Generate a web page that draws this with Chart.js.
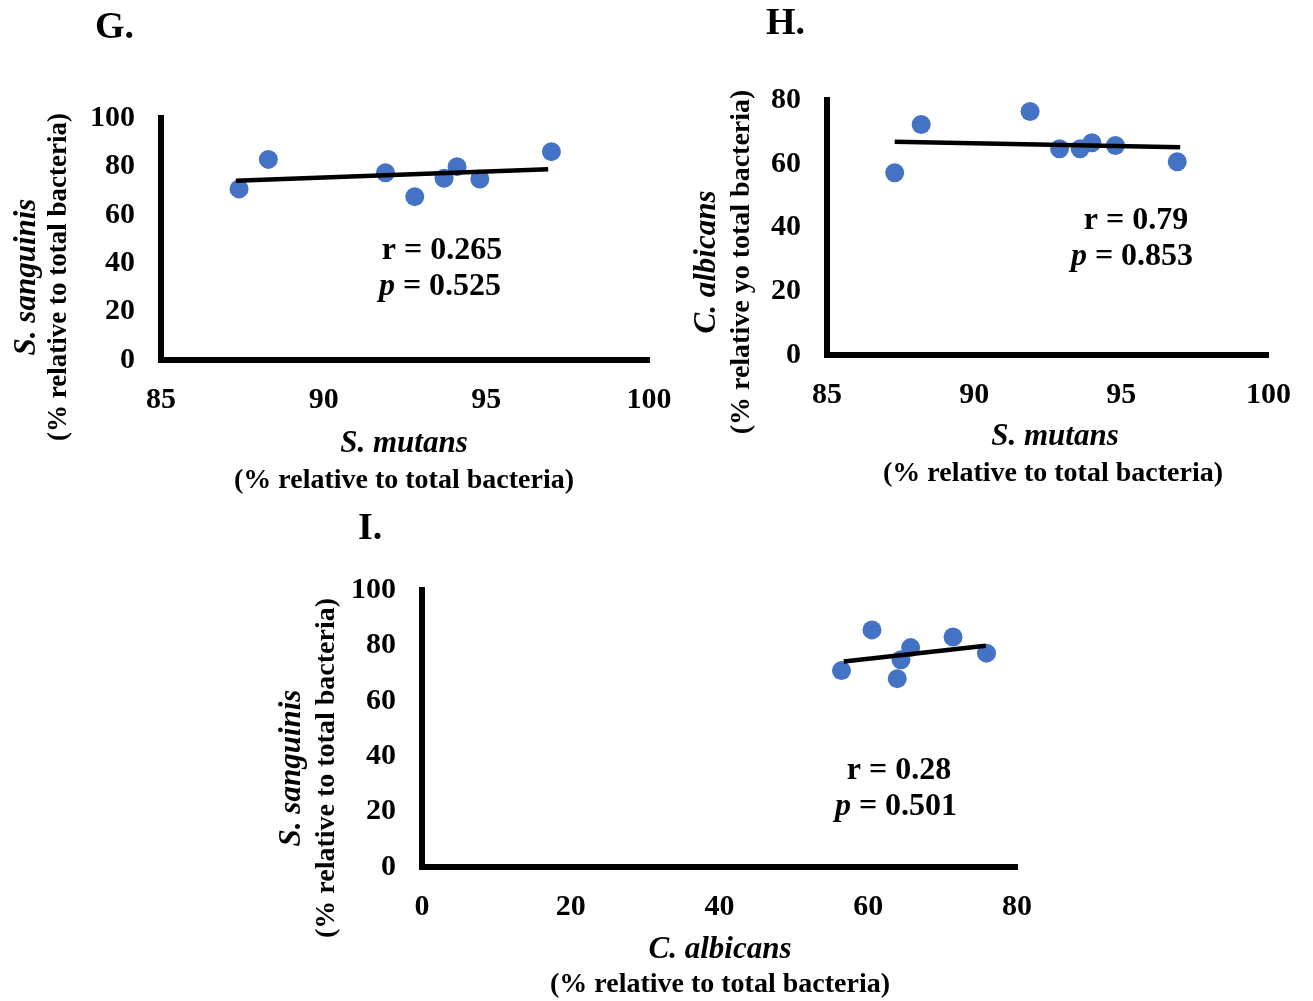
<!DOCTYPE html>
<html>
<head>
<meta charset="utf-8">
<script src="https://cdn.jsdelivr.net/npm/chart.js@4/dist/chart.umd.min.js"></script>
<style>
body { margin: 0; background: #fff; }
#wrap { position: relative; width: 1313px; height: 1001px; }
#wrap canvas { position: absolute; left: 0; top: 0; }
</style>
</head>
<body>
<div id="wrap">
  <canvas id="chart-g" width="1313" height="1001"></canvas>
  <canvas id="chart-h" width="1313" height="1001"></canvas>
  <canvas id="chart-i" width="1313" height="1001"></canvas>
</div>
<script>
// Panel G: S. mutans vs S. sanguinis
var gMutans    = [87.4, 88.3, 91.9, 92.8, 93.7, 94.1, 94.8, 97.0];
var gSanguinis = [70.7, 82.9, 77.4, 67.5, 75.1, 79.9, 74.8, 86.1];
var gTrendX = [87.3, 96.9];
var gTrendY = [74.1, 78.8];

// Panel H: S. mutans vs C. albicans
var hMutans   = [87.3, 88.2, 91.9, 92.9, 93.6, 94.0, 94.8, 96.9];
var hAlbicans = [57.2, 72.3, 76.4, 64.7, 64.7, 66.6, 65.7, 60.6];
var hTrendX = [87.3, 97.0];
var hTrendY = [66.9, 65.2];

// Panel I: C. albicans vs S. sanguinis
var iAlbicans  = [56.4, 60.5, 63.9, 64.4, 65.7, 71.4, 75.9];
var iSanguinis = [70.9, 85.6, 68.0, 74.8, 79.2, 83.0, 77.2];
var iTrendX = [56.7, 75.8];
var iTrendY = [74.2, 79.9];

// Tick labels
var ticksMutans = [85, 90, 95, 100];
var ticksPct100 = [0, 20, 40, 60, 80, 100];
var ticksPct80  = [0, 20, 40, 60, 80];

var FONT = "'Liberation Serif', 'Times New Roman', serif";
var DOT = '#4472C4';

function toPoints(xs, ys) {
    return xs.map(function(x, i) { return { x: x, y: ys[i] }; });
}

// draws the text pieces (titles, r / p values, panel letter)
var panelText = {
    id: 'panelText',
    afterDraw: function(chart, args, opts) {
        var ctx = chart.ctx;
        (opts.items || []).forEach(function(it) {
            ctx.save();
            ctx.translate(it.x, it.y);
            if (it.rotate) ctx.rotate(-Math.PI / 2);
            ctx.textBaseline = 'middle';
            ctx.textAlign = 'left';
            ctx.fillStyle = '#000';
            var total = 0;
            it.parts.forEach(function(p) { ctx.font = p.font; total += ctx.measureText(p.text).width; });
            var x = it.left ? 0 : -total / 2;
            it.parts.forEach(function(p) {
                ctx.font = p.font;
                ctx.fillText(p.text, x, 0);
                x += ctx.measureText(p.text).width;
            });
            ctx.restore();
        });
    }
};

function bold(size) { return 'bold ' + size + 'px ' + FONT; }
function boldItalic(size) { return 'italic bold ' + size + 'px ' + FONT; }

function makePanel(id, box, xs, ys, tx, ty, xAxis, yAxis, texts) {
    var W = 1313, H = 1001;
    return new Chart(document.getElementById(id), {
        type: 'scatter',
        data: {
            datasets: [{
                data: toPoints(tx, ty),
                showLine: true,
                borderColor: '#000',
                borderWidth: 4.5,
                pointRadius: 0,
                order: 0
            }, {
                data: toPoints(xs, ys),
                backgroundColor: DOT,
                borderWidth: 0,
                pointRadius: 9.5,
                order: 1
            }]
        },
        options: {
            responsive: false,
            animation: false,
            events: [],
            layout: { padding: { left: 0, top: box.top, right: W - box.right, bottom: 0 } },
            plugins: {
                legend: { display: false },
                tooltip: { enabled: false },
                panelText: { items: texts }
            },
            scales: {
                x: {
                    type: 'linear',
                    min: xAxis.ticks[0],
                    max: xAxis.ticks[xAxis.ticks.length - 1],
                    grid: { display: false, drawTicks: false },
                    border: { display: true, color: '#000', width: 6 },
                    afterBuildTicks: function(axis) { axis.ticks = xAxis.ticks.map(function(v) { return { value: v }; }); },
                    afterFit: function(axis) { axis.height = H - box.bottom; },
                    ticks: { color: '#000', padding: 22, font: { family: FONT, size: 30, weight: 'bold' }, maxRotation: 0 }
                },
                y: {
                    type: 'linear',
                    min: yAxis.ticks[0],
                    max: yAxis.ticks[yAxis.ticks.length - 1],
                    grid: { display: false, drawTicks: false },
                    border: { display: true, color: '#000', width: 6 },
                    afterBuildTicks: function(axis) { axis.ticks = yAxis.ticks.map(function(v) { return { value: v }; }); },
                    afterFit: function(axis) { axis.width = box.left; },
                    ticks: { color: '#000', padding: 26, font: { family: FONT, size: 30, weight: 'bold' } }
                }
            }
        },
        plugins: [panelText]
    });
}

makePanel('chart-g', { left: 161, right: 649, top: 118, bottom: 360 },
    gMutans, gSanguinis, gTrendX, gTrendY,
    { ticks: ticksMutans }, { ticks: ticksPct100 },
    [
        { x: 95, y: 28, left: true, parts: [{ text: 'G.', font: bold(38) }] },
        { x: 442, y: 251, parts: [{ text: 'r = 0.265', font: bold(32) }] },
        { x: 440, y: 287, parts: [{ text: 'p', font: boldItalic(32) }, { text: ' = 0.525', font: bold(32) }] },
        { x: 404, y: 444, parts: [{ text: 'S. mutans', font: boldItalic(31) }] },
        { x: 404, y: 481, parts: [{ text: '(% relative to total bacteria)', font: bold(28) }] },
        { x: 27, y: 277, rotate: true, parts: [{ text: 'S. sanguinis', font: boldItalic(31) }] },
        { x: 59, y: 277, rotate: true, parts: [{ text: '(% relative to total bacteria)', font: bold(27) }] }
    ]);

makePanel('chart-h', { left: 827, right: 1280, top: 100, bottom: 355 },
    hMutans, hAlbicans, hTrendX, hTrendY,
    { ticks: ticksMutans }, { ticks: ticksPct80 },
    [
        { x: 766, y: 24, left: true, parts: [{ text: 'H.', font: bold(38) }] },
        { x: 1136, y: 221, parts: [{ text: 'r = 0.79', font: bold(32) }] },
        { x: 1132, y: 257, parts: [{ text: 'p', font: boldItalic(32) }, { text: ' = 0.853', font: bold(32) }] },
        { x: 1055, y: 437, parts: [{ text: 'S. mutans', font: boldItalic(31) }] },
        { x: 1053, y: 474, parts: [{ text: '(% relative to total bacteria)', font: bold(28) }] },
        { x: 707, y: 262, rotate: true, parts: [{ text: 'C. albicans', font: boldItalic(31) }] },
        { x: 742, y: 262, rotate: true, parts: [{ text: '(% relative yo total bacteria)', font: bold(28) }] }
    ]);

makePanel('chart-i', { left: 422, right: 1017, top: 590, bottom: 867 },
    iAlbicans, iSanguinis, iTrendX, iTrendY,
    { ticks: ticksPct80 }, { ticks: ticksPct100 },
    [
        { x: 358, y: 529, left: true, parts: [{ text: 'I.', font: bold(38) }] },
        { x: 899, y: 771, parts: [{ text: 'r = 0.28', font: bold(32) }] },
        { x: 896, y: 807, parts: [{ text: 'p', font: boldItalic(32) }, { text: ' = 0.501', font: bold(32) }] },
        { x: 720, y: 950, parts: [{ text: 'C. albicans', font: boldItalic(31) }] },
        { x: 720, y: 985, parts: [{ text: '(% relative to total bacteria)', font: bold(28) }] },
        { x: 292, y: 768, rotate: true, parts: [{ text: 'S. sanguinis', font: boldItalic(31) }] },
        { x: 327, y: 768, rotate: true, parts: [{ text: '(% relative to total bacteria)', font: bold(28) }] }
    ]);
</script>
</body>
</html>
